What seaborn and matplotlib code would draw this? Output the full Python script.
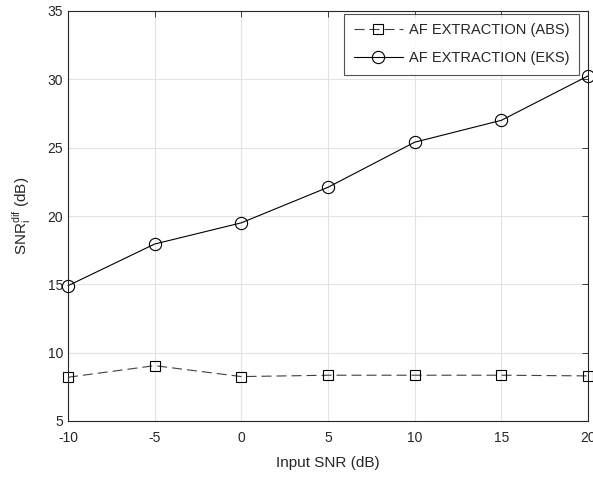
import pandas as pd
import matplotlib.pyplot as plt
import seaborn as sns

# values
input_snr = [-10, -5, 0, 5, 10, 15, 20]
abs_vals = [8.2, 9.05, 8.25, 8.35, 8.35, 8.35, 8.3]
eks_vals = [14.9, 17.95, 19.5, 22.1, 25.4, 27.0, 30.25]
labels = ['AF EXTRACTION (ABS)', 'AF EXTRACTION (EKS)']

df = pd.DataFrame({
    'snr': input_snr * 2,
    'val': abs_vals + eks_vals,
    'method': [labels[0]] * len(input_snr) + [labels[1]] * len(input_snr),
})

sns.set_style('whitegrid')
plt.rcParams['font.family'] = ['Liberation Sans', 'DejaVu Sans']
plt.rcParams['axes.unicode_minus'] = False

fig = plt.figure(figsize=(5.93, 4.8), dpi=100)
ax = fig.add_axes([68 / 593, 59 / 480, 520 / 593, 410 / 480])

sns.lineplot(data=df, x='snr', y='val', hue='method', style='method',
             palette=['#404040', 'black'], dashes=[(9, 4.5), ''],
             markers=['s', 'o'], markerfacecolor='none',
             markeredgecolor='black', markeredgewidth=0.8, linewidth=0.8,
             ax=ax, clip_on=False)

# marker sizes differ per series in the reference
for line, ms in zip(ax.lines, [7.5, 8.8]):
    line.set_markersize(ms)

ax.set_xlim(-10, 20)
ax.set_ylim(5, 35)
ax.set_xticks(input_snr)
ax.set_yticks(range(5, 36, 5))
ax.grid(True, color='#e3e3e3', linewidth=0.8)
for s in ax.spines.values():
    s.set_color('#262626')
    s.set_linewidth(0.8)
ax.tick_params(direction='in', length=4, top=True, right=True, labelsize=10,
               colors='#262626', width=0.6)
ax.tick_params(axis='x', pad=7)

ax.set_xlabel('Input SNR (dB)', fontsize=11, color='#262626', labelpad=8)
ax.set_ylabel(r'SNR$_{\mathregular{i}}^{\mathregular{dif}}$ (dB)', fontsize=11,
              color='#262626', labelpad=10)

leg = ax.legend(loc='upper right', fontsize=10.5, frameon=True, fancybox=False,
                edgecolor='#262626', handlelength=3.4, handletextpad=0.4,
                labelspacing=0.95, borderpad=0.65,
                bbox_to_anchor=(579 / 593, 466 / 480), bbox_transform=fig.transFigure,
                borderaxespad=0)
leg.get_frame().set_linewidth(0.8)
for h, ms in zip(leg.legend_handles, [7.5, 8.8]):
    h.set_markerfacecolor('none')
    h.set_markeredgecolor('black')
    h.set_markersize(ms)

fig.savefig('out.png', dpi=100)
